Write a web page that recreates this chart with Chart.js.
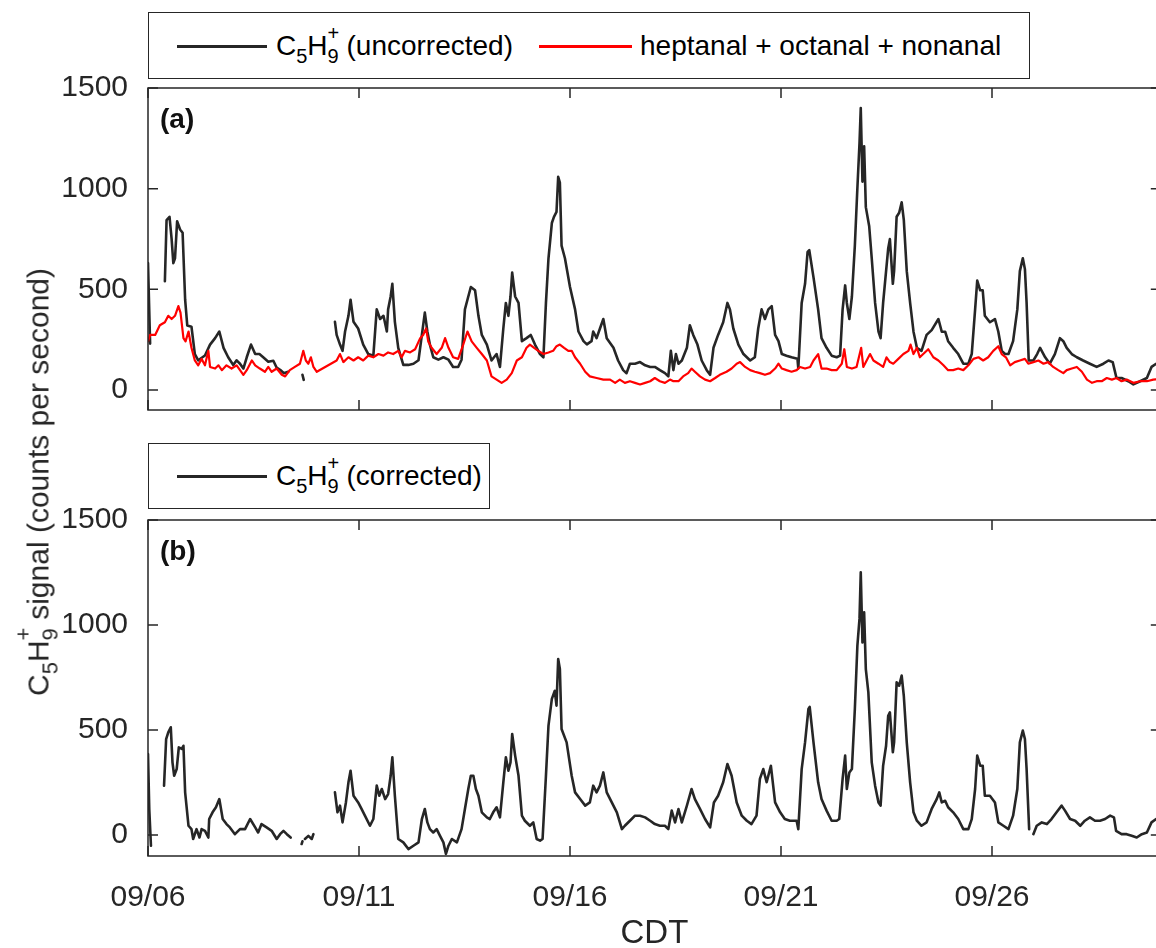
<!DOCTYPE html>
<html><head><meta charset="utf-8">
<script src="https://cdn.jsdelivr.net/npm/chart.js@4.4.1/dist/chart.umd.min.js"></script>
<style>
html,body{margin:0;padding:0;background:#fff;overflow:hidden;}
#wrap{position:relative;width:1156px;height:948px;overflow:hidden;background:#fff;font-family:'Liberation Sans',Arial,sans-serif;color:#262626;}
canvas{position:absolute;left:0;}
#cA{top:0;}
#cB{top:432px;}
.box{position:absolute;border:1.5px solid #262626;background:#fff;box-sizing:border-box;}
.sw{position:absolute;height:3px;}
.txt{position:absolute;font-size:28px;line-height:40px;height:40px;white-space:nowrap;color:#000;}
.lo{font-size:20px;position:relative;top:8px;}
.pair{position:relative;display:inline-block;}
.pair .hi{position:absolute;left:0;top:-13px;font-size:20px;}
.pair .lo2{font-size:20px;position:relative;top:8px;}
#ytitle{position:absolute;left:40px;top:482px;transform:translate(-50%,-50%) rotate(-90deg);font-size:30px;line-height:44px;white-space:nowrap;color:#262626;}
#ytitle .lo,#ytitle .lo2{font-size:22px;top:9px;}
#ytitle .hi{font-size:22px;top:-15px;}
</style></head>
<body>
<div id="wrap">
<canvas id="cA" width="1180" height="440"></canvas>
<canvas id="cB" width="1180" height="530"></canvas>

<div class="box" style="left:148px;top:12px;width:882px;height:67px;"></div>
<div class="sw" style="left:177px;top:44.5px;width:90px;background:#262626;"></div>
<div class="txt" style="left:276px;top:26px;">C<span class="lo">5</span>H<span class="pair"><span class="hi">+</span><span class="lo2">9</span></span> (uncorrected)</div>
<div class="sw" style="left:539px;top:44.5px;width:93px;background:#ff0000;"></div>
<div class="txt" style="left:640px;top:26px;">heptanal + octanal + nonanal</div>

<div class="box" style="left:148px;top:443px;width:342px;height:66px;"></div>
<div class="sw" style="left:177px;top:475px;width:90px;background:#262626;"></div>
<div class="txt" style="left:276px;top:456px;">C<span class="lo">5</span>H<span class="pair"><span class="hi">+</span><span class="lo2">9</span></span> (corrected)</div>

<div id="ytitle">C<span class="lo">5</span>H<span class="pair"><span class="hi">+</span><span class="lo2">9</span></span> signal (counts per second)</div>
</div>
<script>
// ---- tick definitions ----
const dayTicks = [0, 5, 10, 15, 20];
const dayLabels = ['09/06', '09/11', '09/16', '09/21', '09/26'];
const yTicks = [0, 500, 1000, 1500];

// ---- C5H9+ (uncorrected), days since 09/06 00:00 ----
const uncT = [0,0.05,0.06,0.40,0.44,0.51,0.56,0.60,0.64,0.69,0.76,0.82,0.88,0.93,1.03,1.11,1.19,1.35,1.47,1.59,1.69,1.79,1.90,2.02,2.10,2.18,2.26,2.34,2.44,2.54,2.64,2.73,2.85,2.97,3.05,3.13,3.22,3.32,3.40,3.66,3.69,3.70,
4.43,4.47,4.55,4.61,4.67,4.75,4.80,4.87,4.98,5.10,5.22,5.34,5.42,5.50,5.58,5.66,5.69,5.75,5.79,5.85,5.93,6.05,6.17,6.29,6.41,6.49,6.56,6.62,6.68,6.76,6.88,7.00,7.12,7.23,7.35,7.43,7.51,7.59,7.65,7.75,7.83,7.91,
8.03,8.14,8.26,8.34,8.42,8.48,8.54,8.59,8.63,8.70,8.78,8.86,8.97,9.07,9.17,9.29,9.37,9.43,9.49,9.57,9.62,9.68,9.72,9.76,9.80,9.88,10.00,10.12,10.20,10.32,10.40,10.51,10.55,10.63,10.71,10.79,10.87,
11.03,11.14,11.26,11.34,11.42,11.54,11.66,11.78,11.90,12.01,12.13,12.25,12.33,12.39,12.45,12.51,12.57,12.65,12.77,12.84,12.92,13.02,13.12,13.24,13.32,13.40,13.51,13.63,13.73,13.79,13.87,13.99,
14.11,14.27,14.38,14.46,14.54,14.62,14.70,14.78,14.86,14.94,15.02,15.13,15.25,15.39,15.41,15.49,15.57,15.63,15.67,15.77,15.88,15.96,16.08,16.20,16.32,16.40,16.46,16.52,16.56,16.62,16.68,16.75,16.81,16.86,16.89,16.93,16.97,
17.01,17.09,17.15,17.23,17.31,17.36,17.42,17.49,17.54,17.58,17.65,17.68,17.74,17.80,17.86,17.91,17.98,18.06,18.14,18.22,18.33,18.45,18.57,18.73,18.81,18.89,18.96,19.08,19.20,19.32,19.44,19.52,19.60,19.65,19.72,19.78,19.83,19.95,
20.07,20.15,20.23,20.31,20.39,20.50,20.60,20.66,20.73,20.78,20.82,20.87,20.98,21.07,21.14,21.26,21.37,21.49,21.61,21.69,21.77,21.89,22.01,22.16,22.32,22.48,22.64,22.76,22.86,22.95,23.07,23.23,23.35,23.51,23.67,23.78,23.89,24.0];
const uncV = [630,230,null,540,844,860,749,630,654,838,797,781,448,320,314,178,147,171,225,257,290,209,162,124,147,130,106,162,225,178,178,162,140,145,110,100,83,90,null,75,50,null,
338,273,225,194,290,368,448,338,305,225,178,170,400,352,368,290,400,464,527,338,209,124,124,130,147,273,384,290,225,162,150,162,150,114,114,150,400,464,511,495,368,273,
225,146,178,114,305,432,368,464,583,464,432,242,257,273,225,178,162,432,654,829,860,884,1059,1030,717,654,511,400,290,242,226,242,290,257,305,352,257,
209,146,98,83,130,130,138,122,114,114,98,83,67,194,98,178,130,146,209,321,273,225,146,98,75,209,273,336,432,400,305,225,
178,146,162,305,400,352,400,416,273,242,178,170,162,155,106,432,527,686,694,559,400,257,209,170,162,170,400,519,432,352,464,717,1003,1225,1400,1035,1210,
908,813,654,432,289,257,432,590,702,749,527,590,860,880,932,845,590,432,289,209,194,273,297,352,289,289,242,209,178,130,130,178,400,543,495,495,368,336,
352,289,194,178,178,242,400,590,654,600,432,146,146,178,209,162,130,178,257,242,209,178,162,146,130,114,130,146,138,59,59,43,27,43,59,114,130,132];

// ---- heptanal + octanal + nonanal ----
const aldT = [0,0.05,0.17,0.28,0.40,0.48,0.56,0.64,0.72,0.77,0.84,0.89,0.96,1.03,1.11,1.19,1.27,1.35,1.43,1.47,1.59,1.67,1.75,1.86,1.98,2.10,2.18,2.26,2.34,2.46,2.54,2.65,2.77,2.85,2.93,3.05,3.17,3.25,3.36,3.48,3.60,3.68,3.74,3.80,3.86,3.92,4.00,
4.47,4.55,4.63,4.75,4.87,4.98,5.10,5.22,5.34,5.46,5.58,5.69,5.81,5.93,6.01,6.09,6.21,6.33,6.45,6.52,6.59,6.64,6.72,6.84,6.96,7.04,7.12,7.23,7.35,7.47,7.57,7.67,7.79,7.91,
8.03,8.14,8.26,8.38,8.50,8.62,8.74,8.86,8.97,9.05,9.15,9.25,9.37,9.49,9.60,9.68,9.76,9.86,9.96,10.04,10.12,10.24,10.36,10.47,10.63,10.79,10.95,11.07,11.18,11.30,11.42,11.54,11.66,11.78,11.90,
12.01,12.13,12.25,12.37,12.45,12.57,12.68,12.80,12.88,12.96,13.08,13.20,13.32,13.44,13.55,13.71,13.83,13.95,14.03,14.15,14.27,14.38,14.50,14.62,14.74,14.86,14.94,15.02,15.13,15.25,15.37,15.45,15.57,15.69,15.77,15.88,15.96,
16.08,16.20,16.32,16.44,16.50,16.56,16.68,16.79,16.90,16.95,17.03,17.11,17.19,17.31,17.42,17.50,17.58,17.66,17.78,17.90,18.02,18.07,18.14,18.22,18.29,18.37,18.49,18.61,18.73,18.85,18.96,19.08,19.20,19.32,19.44,19.56,19.68,19.79,19.91,
20.03,20.15,20.23,20.33,20.43,20.54,20.66,20.78,20.86,20.98,21.10,21.22,21.33,21.45,21.57,21.69,21.77,21.89,22.01,22.13,22.25,22.37,22.48,22.60,22.72,22.84,22.95,23.07,23.19,23.35,23.51,23.67,23.82,24.0];
const aldV = [241,273,273,321,336,368,352,368,416,384,257,241,290,209,146,122,154,122,194,114,106,122,98,122,106,122,98,75,98,146,122,106,90,114,90,106,75,67,98,114,130,194,146,130,162,114,90,
146,178,138,162,146,162,146,170,162,178,170,186,178,194,162,194,186,202,257,273,305,241,209,178,209,257,209,162,154,225,290,241,209,178,
146,67,51,35,51,83,146,162,209,225,209,194,178,186,194,217,225,209,194,194,162,130,90,67,59,51,51,35,51,35,43,35,27,35,43,
59,43,35,51,43,43,67,83,106,90,67,51,43,59,75,90,106,130,138,114,98,90,83,75,83,106,130,106,98,90,98,114,106,114,146,178,106,
106,98,98,130,202,114,106,114,209,114,146,178,146,130,114,162,138,130,154,178,194,225,178,209,162,178,202,162,146,122,98,98,106,98,122,154,162,146,162,
194,217,178,162,122,138,146,154,130,138,146,130,138,114,98,83,98,106,114,90,51,35,43,43,59,51,59,43,51,35,43,43,51,55];

// ---- C5H9+ (corrected) ----
const corT = [0,0.03,0.07,0.08,0.38,0.43,0.48,0.54,0.58,0.62,0.68,0.73,0.80,0.84,0.88,0.96,1.03,1.07,1.15,1.22,1.27,1.35,1.43,1.45,1.53,1.61,1.69,1.77,1.86,1.94,2.06,2.18,2.30,2.42,2.54,2.61,2.69,2.81,2.93,3.05,3.13,3.21,3.29,3.38,3.45,3.64,3.66,3.67,3.72,3.80,3.88,3.92,3.95,
4.43,4.49,4.55,4.61,4.69,4.75,4.80,4.87,4.98,5.06,5.14,5.26,5.34,5.42,5.48,5.54,5.62,5.69,5.75,5.79,5.85,5.93,6.05,6.17,6.29,6.41,6.49,6.56,6.62,6.68,6.76,6.84,6.92,7.00,7.06,7.12,7.20,7.32,7.43,7.51,7.59,7.65,7.71,7.77,7.83,7.91,
8.03,8.10,8.18,8.26,8.34,8.42,8.48,8.54,8.59,8.63,8.70,8.78,8.86,8.93,9.05,9.13,9.21,9.29,9.35,9.43,9.49,9.57,9.64,9.68,9.72,9.76,9.80,9.92,10.04,10.12,10.24,10.36,10.47,10.55,10.63,10.71,10.79,10.87,10.99,
11.11,11.23,11.30,11.42,11.54,11.66,11.78,11.90,12.01,12.13,12.25,12.33,12.41,12.49,12.57,12.65,12.77,12.88,12.96,13.08,13.20,13.32,13.41,13.51,13.63,13.73,13.83,13.95,14.07,14.19,14.30,14.42,14.50,14.58,14.66,14.76,14.86,14.98,
15.09,15.21,15.37,15.41,15.49,15.57,15.65,15.68,15.77,15.88,15.96,16.08,16.20,16.32,16.38,16.46,16.52,16.56,16.62,16.68,16.75,16.81,16.86,16.89,16.93,16.97,17.01,17.07,17.15,17.23,17.31,17.36,17.42,17.49,17.54,17.58,17.65,17.68,17.74,17.80,17.86,17.91,17.98,
18.06,18.14,18.22,18.33,18.45,18.57,18.69,18.75,18.81,18.89,18.96,19.08,19.20,19.32,19.44,19.52,19.60,19.65,19.72,19.78,19.83,19.95,20.07,20.15,20.27,20.39,20.50,20.60,20.66,20.73,20.78,20.82,20.88,20.93,
20.98,21.06,21.18,21.30,21.41,21.53,21.65,21.73,21.85,21.97,22.09,22.20,22.32,22.44,22.56,22.68,22.80,22.89,22.94,23.07,23.19,23.31,23.43,23.55,23.67,23.78,23.89,24.0];
const corV = [386,124,-51,null,235,457,489,513,346,282,314,417,410,425,203,44,28,-19,28,-12,28,20,-12,76,108,132,171,76,52,36,4,28,28,76,36,12,52,36,20,-19,4,20,4,-12,null,-43,-30,null,-19,-4,-19,4,null,
203,108,140,60,155,251,306,187,155,124,92,44,76,235,187,219,171,195,282,370,187,-19,-35,-67,-51,-35,76,124,60,28,12,28,-4,-35,-90,-51,-19,-35,28,124,219,282,282,219,187,108,
84,76,108,132,84,251,370,306,346,481,378,282,92,68,44,60,-19,-27,-19,282,521,648,687,616,838,791,505,441,282,203,171,140,155,235,203,235,298,203,155,
108,28,44,68,92,92,84,68,52,44,44,28,116,60,124,60,140,219,171,124,76,36,155,187,251,338,282,155,92,68,52,92,267,314,251,330,155,108,
76,68,68,28,314,441,600,610,441,251,171,116,68,68,76,267,378,219,298,314,600,902,1029,1251,917,1060,790,679,346,235,155,140,330,425,568,584,394,441,727,711,759,663,441,
251,108,68,44,60,124,171,203,155,163,132,108,76,28,28,76,219,378,330,330,187,187,155,60,44,28,92,219,441,497,457,314,28,null,
4,44,60,52,76,108,140,116,76,68,44,68,84,68,68,76,92,84,20,4,4,-4,-12,4,12,60,76,80];

const FAMILY = "'Liberation Sans', Arial, Helvetica, sans-serif";
const INK = '#262626';

function pts(t, v) { return t.map((x, i) => ({ x: x, y: v[i] })); }

const framePlugin = {
  id: 'frame',
  afterDatasetsDraw(chart, args, opts) {
    const { ctx, chartArea: a, scales } = chart;
    const x = scales.x, y = scales.y;
    ctx.save();
    ctx.strokeStyle = INK;
    ctx.lineWidth = 1.5;
    ctx.strokeRect(a.left, a.top, a.right - a.left, a.bottom - a.top);
    ctx.beginPath();
    for (const t of dayTicks) {
      const px = x.getPixelForValue(t);
      ctx.moveTo(px, a.bottom); ctx.lineTo(px, a.bottom - 10);
      ctx.moveTo(px, a.top); ctx.lineTo(px, a.top + 10);
    }
    for (const t of yTicks) {
      const py = y.getPixelForValue(t);
      ctx.moveTo(a.left, py); ctx.lineTo(a.left + 10, py);
      ctx.moveTo(a.right, py); ctx.lineTo(a.right - 10, py);
    }
    ctx.stroke();
    ctx.fillStyle = '#111';
    ctx.font = 'bold 28px ' + FAMILY;
    ctx.textBaseline = 'alphabetic';
    ctx.fillText(opts.label, a.left + 12, a.top + 40);
    ctx.restore();
  }
};

function makeChart(id, datasets, label, showX) {
  return new Chart(document.getElementById(id), {
    type: 'line',
    data: { datasets: datasets },
    options: {
      responsive: false,
      animation: false,
      devicePixelRatio: 1,
      layout: { padding: { top: 88, left: 0, right: 19.2, bottom: showX ? 0 : 16 } },
      plugins: { legend: { display: false }, tooltip: { enabled: false }, frame: { label: label } },
      elements: { point: { radius: 0 }, line: { tension: 0, borderJoinStyle: 'round', borderCapStyle: 'round' } },
      scales: {
        x: {
          type: 'linear', min: 0, max: 24, display: showX,
          grid: { display: false }, border: { display: false },
          afterBuildTicks: s => { s.ticks = dayTicks.map(v => ({ value: v })); },
          ticks: { callback: v => dayLabels[dayTicks.indexOf(v)], font: { size: 30, family: FAMILY }, color: INK, padding: 16, maxRotation: 0, autoSkip: false },
          title: { display: showX, text: 'CDT', font: { size: 33, family: FAMILY }, color: INK, padding: { top: 0, bottom: 8 } },
          afterFit: s => { s.height = showX ? 106 : 0; }
        },
        y: {
          type: 'linear', min: -100, max: 1500,
          grid: { display: false }, border: { display: false },
          afterBuildTicks: s => { s.ticks = yTicks.map(v => ({ value: v })); },
          ticks: { callback: v => String(v), font: { size: 30, family: FAMILY }, color: INK, padding: 12 },
          afterFit: s => { s.width = 148; }
        }
      }
    },
    plugins: [framePlugin]
  });
}

makeChart('cA', [
  { label: 'heptanal + octanal + nonanal', data: pts(aldT, aldV), borderColor: '#ff0000', borderWidth: 2.2, order: 0, spanGaps: false },
  { label: 'C5H9+ (uncorrected)', data: pts(uncT, uncV), borderColor: INK, borderWidth: 2.6, order: 1, spanGaps: false }
], '(a)', false);

makeChart('cB', [
  { label: 'C5H9+ (corrected)', data: pts(corT, corV), borderColor: INK, borderWidth: 2.6, order: 0, spanGaps: false }
], '(b)', true);
</script>
</body></html>
